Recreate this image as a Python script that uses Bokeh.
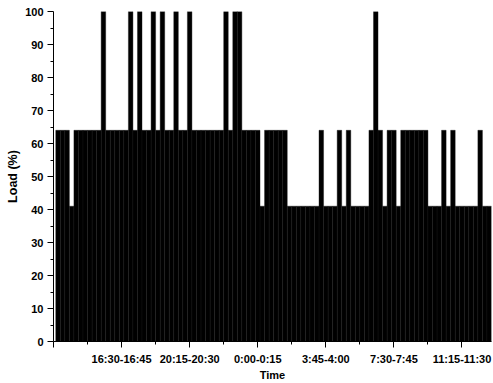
from bokeh.plotting import figure
from bokeh.models import Range1d, FixedTicker, ColumnDataSource
from bokeh.embed import file_html
from bokeh.resources import INLINE

# 15-minute time slots, row 1 = 13:00-13:15 ... row 96 = 12:45-13:00
slot = list(range(1, 97))
load = [
    64, 64, 64, 41, 64, 64, 64, 64,
    64, 64, 100, 64, 64, 64, 64, 64,
    100, 64, 100, 64, 64, 100, 64, 100,
    64, 64, 100, 64, 64, 100, 64, 64,
    64, 64, 64, 64, 64, 100, 64, 100,
    100, 64, 64, 64, 64, 41, 64, 64,
    64, 64, 64, 41, 41, 41, 41, 41,
    41, 41, 64, 41, 41, 41, 64, 41,
    64, 41, 41, 41, 41, 64, 100, 64,
    41, 64, 64, 41, 64, 64, 64, 64,
    64, 64, 41, 41, 41, 64, 41, 64,
    41, 41, 41, 41, 41, 64, 41, 41,
]
x_ticks = [0, 15, 30, 45, 60, 75, 90]
x_tick_labels = ["", "16:30-16:45", "20:15-20:30", "0:00-0:15",
                 "3:45-4:00", "7:30-7:45", "11:15-11:30"]
x_minor = [7.5, 22.5, 37.5, 52.5, 67.5, 82.5]
y_ticks = [0, 10, 20, 30, 40, 50, 60, 70, 80, 90, 100]
y_minor = [5, 15, 25, 35, 45, 55, 65, 75, 85, 95]

src = ColumnDataSource(dict(slot=slot, load=load))

p = figure(width=493, height=383, output_backend="svg", toolbar_location=None,
           x_range=Range1d(0, 96.5), y_range=Range1d(0, 100),
           min_border_left=53, min_border_right=2, min_border_top=11,
           min_border_bottom=40)
p.outline_line_color = None
p.xgrid.visible = False
p.ygrid.visible = False
p.background_fill_color = "white"
p.border_fill_color = "white"

p.vbar(x="slot", top="load", bottom=0, width=1, source=src,
       fill_color="black", line_color="#141414", line_width=0.4)

font = "Liberation Sans"
p.xaxis.ticker = FixedTicker(ticks=x_ticks, minor_ticks=x_minor)
p.xaxis.major_label_overrides = {t: l for t, l in zip(x_ticks, x_tick_labels)}
p.yaxis.ticker = FixedTicker(ticks=y_ticks, minor_ticks=y_minor)

p.xaxis.axis_label = "Time"
p.yaxis.axis_label = "Load (%)"

for ax in (p.xaxis[0], p.yaxis[0]):
    ax.axis_line_color = "black"
    ax.axis_line_width = 1
    ax.major_tick_line_color = "black"
    ax.minor_tick_line_color = "black"
    ax.major_tick_in = 0
    ax.major_tick_out = 6
    ax.minor_tick_in = 0
    ax.minor_tick_out = 3
    ax.major_label_text_font = font
    ax.major_label_text_font_style = "bold"
    ax.major_label_text_font_size = "11px"
    ax.major_label_text_color = "black"
    ax.axis_label_text_font = font
    ax.axis_label_text_font_style = "bold"
    ax.axis_label_text_color = "black"

p.xaxis.major_label_standoff = 5
p.xaxis.axis_label_standoff = 1
p.xaxis.axis_label_text_font_size = "11px"
p.yaxis.major_label_standoff = 4
p.yaxis.axis_label_standoff = 2
p.yaxis.axis_label_text_font_size = "12.5px"

open("out.html", "w").write(file_html(p, INLINE))
